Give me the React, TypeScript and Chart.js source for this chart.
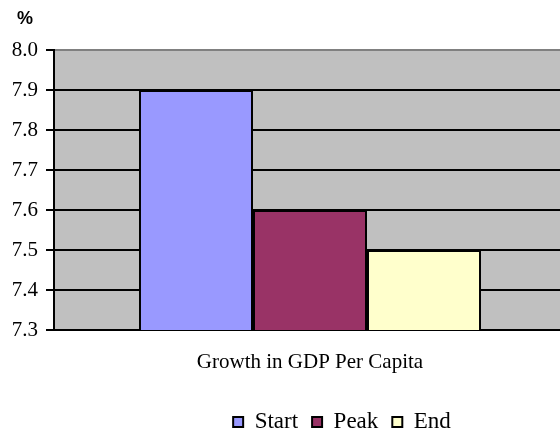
import React, { useEffect, useRef } from "react";
import { Chart, registerables } from "chart.js";

Chart.register(...registerables);

const categories = ["Growth in GDP Per Capita"];
const seriesNames = ["Start", "Peak", "End"];
const startValues = [7.9];
const peakValues = [7.6];
const endValues = [7.5];
const seriesColors = ["#9999FF", "#993366", "#FFFFCC"];
const yMin = 7.3;
const yMax = 8.0;
const yStep = 0.1;
const unitLabel = "%";

const serif = '"Liberation Serif", "Times New Roman", serif';
Chart.defaults.font.family = serif;

const plotBg = {
  id: "plotBg",
  beforeDraw(chart: any) {
    const { ctx, chartArea } = chart;
    ctx.save();
    ctx.fillStyle = "#C0C0C0";
    ctx.fillRect(chartArea.left, chartArea.top, chartArea.right - chartArea.left, chartArea.bottom - chartArea.top);
    ctx.restore();
  },
};

const placeBoxes = {
  id: "placeBoxes",
  afterLayout(chart: any) {
    const s = chart.scales.x;
    if (s) {
      s.right = s.right + 6;
      s.width = s.right - s.left;
      s.configure();
    }
    const lg = chart.legend;
    if (lg) {
      const h = lg.height;
      lg.left += 62;
      lg.right += 62;
      lg.top = 396.5;
      lg.bottom = lg.top + h;
    }
  },
};

const unitText = {
  id: "unitText",
  afterDraw(chart: any) {
    const { ctx } = chart;
    ctx.save();
    ctx.font = 'bold 18px "Liberation Sans", Arial, sans-serif';
    ctx.fillStyle = "#000";
    ctx.textAlign = "left";
    ctx.textBaseline = "middle";
    ctx.fillText(unitLabel, 17, 19);
    ctx.restore();
  },
};

export default function App() {
  const ref = useRef<HTMLCanvasElement | null>(null);
  useEffect(() => {
    let chart: any = null;
    let cancelled = false;
    const build = () => {
      if (cancelled || !ref.current) return;
      const valueSets = [startValues, peakValues, endValues];
      chart = new Chart(ref.current, {
        type: "bar",
        data: {
          labels: categories,
          datasets: seriesNames.map((name, i) => ({
            label: name,
            data: valueSets[i],
            backgroundColor: seriesColors[i],
            borderColor: "#000000",
            borderWidth: 2,
            categoryPercentage: 0.668,
            barPercentage: 1.0,
          })),
        },
        options: {
          responsive: false,
          animation: false,
          layout: { padding: { top: 50, left: 0, right: 0, bottom: 0 } },
          plugins: {
            title: { display: false },
            tooltip: { enabled: false },
            legend: {
              position: "bottom",
              labels: {
                boxWidth: 10,
                boxHeight: 10,
                padding: 14,
                color: "#000",
                font: { family: serif, size: 23 },
              },
            },
          },
          scales: {
            x: {
              grid: { display: false, drawTicks: false },
              border: { display: true, color: "#000", width: 2 },
              ticks: {
                color: "#000",
                padding: 20,
                font: { family: serif, size: 21 },
              },
              afterFit(scale: any) {
                scale.height = 58;
              },
            },
            y: {
              min: yMin,
              max: yMax,
              grid: {
                color: (c: any) => (c.tick && c.tick.value >= yMax - 1e-6 ? "#808080" : "#000000"),
                tickColor: "#000000",
                lineWidth: 2,
                tickLength: 8,
              },
              border: { display: true, color: "#000", width: 2 },
              ticks: {
                stepSize: yStep,
                color: "#000",
                padding: 8,
                font: { family: serif, size: 21 },
                callback: (v: any) => Number(v).toFixed(1),
              },
              afterFit(scale: any) {
                scale.width = 54;
              },
            },
          },
        },
        plugins: [plotBg, placeBoxes, unitText],
      });
    };
    const fontsApi: any = (document as any).fonts;
    if (fontsApi && fontsApi.load) {
      Promise.all([
        fontsApi.load('21px "Liberation Serif"'),
        fontsApi.load('23px "Liberation Serif"'),
        fontsApi.load('bold 18px "Liberation Sans"'),
      ]).then(build, build);
    } else {
      build();
    }
    return () => {
      cancelled = true;
      if (chart) chart.destroy();
    };
  }, []);
  return (
    <div style={{ position: "fixed", left: 0, top: 0, width: 560, height: 435, background: "#fff" }}>
      <canvas ref={ref} width={560} height={435} style={{ display: "block" }} />
    </div>
  );
}
